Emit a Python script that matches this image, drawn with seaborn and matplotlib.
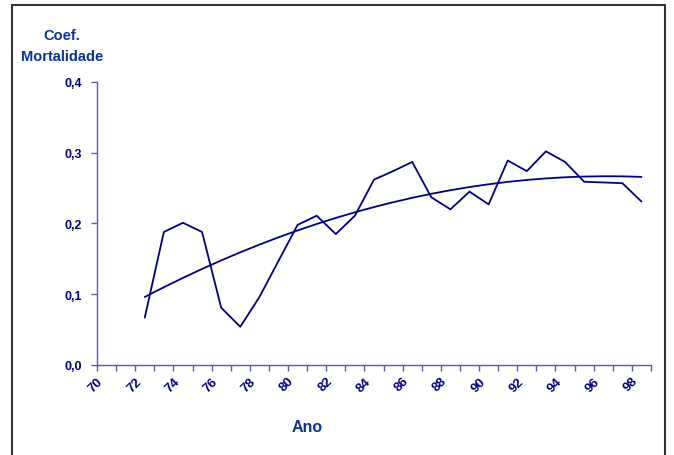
import numpy as np
import pandas as pd
import matplotlib
matplotlib.use("Agg")
import matplotlib.pyplot as plt
from matplotlib.patches import Rectangle
from matplotlib.ticker import FuncFormatter
import seaborn as sns

# Coeficiente de mortalidade por ano
anos = list(range(72, 99))
coef = [0.067, 0.188, 0.201, 0.188, 0.081, 0.054, 0.096, 0.147, 0.198,
        0.211, 0.185, 0.211, 0.262, 0.274, 0.287, 0.237, 0.220, 0.245,
        0.227, 0.289, 0.274, 0.302, 0.287, 0.259, 0.258, 0.257, 0.231]
x_ticks = list(range(70, 100))
y_ticks = [0.0, 0.1, 0.2, 0.3, 0.4]

NAVY = "#000080"
BLUE = "#0a3399"

sns.set_theme(style="white")
plt.rcParams["font.family"] = ["Liberation Sans", "DejaVu Sans"]
plt.rcParams["font.weight"] = "bold"

df = pd.DataFrame({"ano": anos, "coef": coef})
# each year sits in the middle of its category slot
df["pos"] = df["ano"] + 0.5

# polynomial (2nd order) trend line over the series
idx = np.arange(1, len(df) + 1)
p = np.polyfit(idx, df["coef"], 2)
df["tend"] = np.polyval(p, idx)

fig = plt.figure(figsize=(6.74, 4.56), dpi=100)
ax = fig.add_axes([0.1439, 0.1974, 0.822, 0.6206])

sns.lineplot(data=df, x="pos", y="coef", ax=ax, color=NAVY, linewidth=1.3)
sns.lineplot(data=df, x="pos", y="tend", ax=ax, color=NAVY, linewidth=1.3)

ax.set_xlim(70, 99)
ax.set_ylim(0, 0.4)
ax.set_xticks(x_ticks)
ax.set_xticklabels([str(t) if t % 2 == 0 else "" for t in x_ticks],
                   rotation=45, ha="right", va="top", rotation_mode="anchor",
                   fontsize=9.5, fontweight="bold", color=NAVY)
ax.set_yticks(y_ticks)
ax.yaxis.set_major_formatter(FuncFormatter(lambda v, _: f"{v:.1f}".replace(".", ",")))
for lab in ax.get_yticklabels():
    lab.set_fontsize(9)
    lab.set_fontweight("bold")
    lab.set_color(NAVY)

ax.set_xlabel("")
ax.set_ylabel("")
for side in ["top", "right"]:
    ax.spines[side].set_visible(False)
for side in ["left", "bottom"]:
    ax.spines[side].set_color("#5a5aa8")
    ax.spines[side].set_linewidth(1.0)
ax.tick_params(axis="both", which="major", direction="out", length=4,
               width=1.0, color="#5a5aa8", left=True, bottom=True)
ax.tick_params(axis="x", pad=3)
ax.tick_params(axis="y", pad=7)
ax.grid(False)

fig.text(62 / 674, 1 - 36 / 456, "Coef.", ha="center", va="center",
         fontsize=10.5, fontweight="bold", color=BLUE)
fig.text(62 / 674, 1 - 57 / 456, "Mortalidade", ha="center", va="center",
         fontsize=10.5, fontweight="bold", color=BLUE)
fig.text(307 / 674, 1 - 428 / 456, "Ano", ha="center", va="center",
         fontsize=11.5, fontweight="bold", color=BLUE)

# outer chart frame
fig.patches.append(Rectangle((12 / 674, -0.05), (665 - 12) / 674, 1 - 6 / 456 + 0.05,
                             transform=fig.transFigure, fill=False,
                             edgecolor="#333333", linewidth=1.5))

fig.savefig("out.png", dpi=100)
